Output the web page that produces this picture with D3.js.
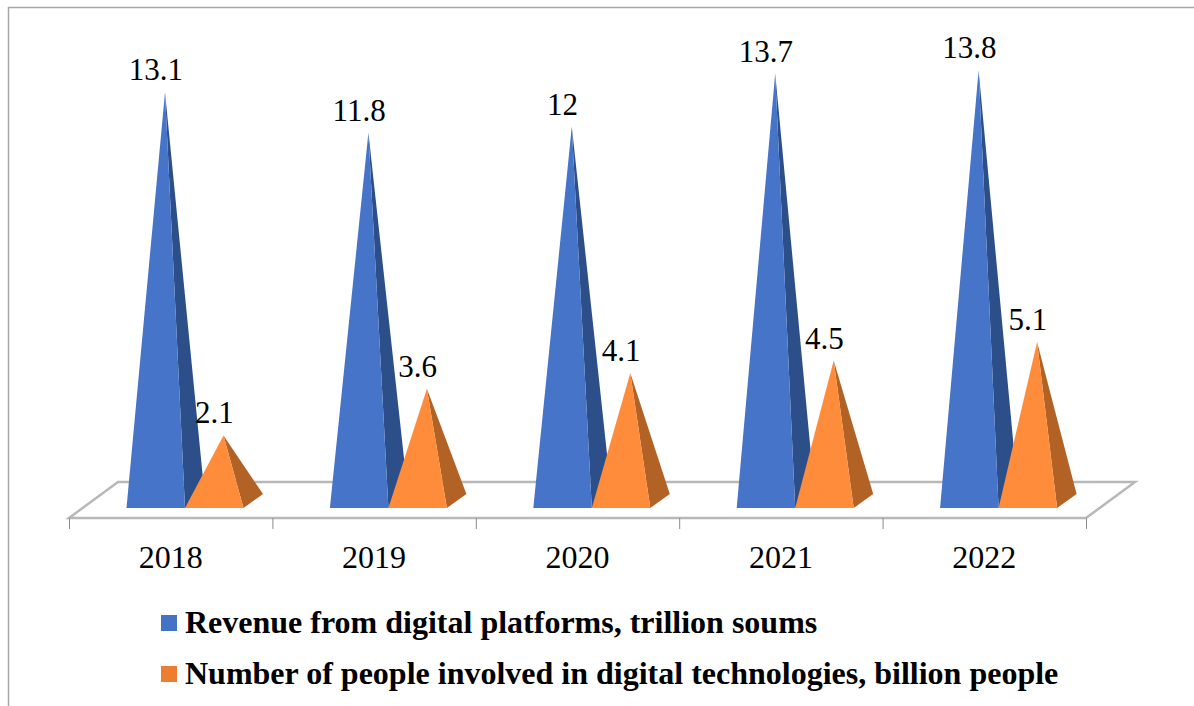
<!DOCTYPE html>
<html>
<head>
<meta charset="utf-8">
<script src="https://cdn.jsdelivr.net/npm/d3@7"></script>
<style>
  html, body { margin: 0; padding: 0; background: #fff; }
  svg { display: block; font-family: "Liberation Serif", serif; }
</style>
</head>
<body>
<svg id="chart" width="1194" height="706"></svg>
<script>
const years = ["2018", "2019", "2020", "2021", "2022"];
const seriesNames = [
  "Revenue from digital platforms, trillion soums",
  "Number of people involved in digital technologies, billion people"
];
const revenue = [13.1, 11.8, 12, 13.7, 13.8];
const people = [2.1, 3.6, 4.1, 4.5, 5.1];
const seriesValues = [revenue, people];
const frontColors = ["#4674c8", "#ff8c3a"];
const sideColors = ["#2c4f8a", "#b26224"];
const legendColors = ["#4472c4", "#ed7d31"];

const svg = d3.select("#chart");
const axisColor = "#b8b8b8";

// Floor plane and pyramid depth, in pixels of oblique projection
const floor = { left: 69, right: 1086, front: 518, back: 482, shift: 49 };
const depth = { dx: 19.5, dy: 14, apexShift: 9.25 };

const x = d3.scaleBand().domain(years).range([floor.left, floor.right]);
const inner = d3.scaleBand().domain(d3.range(seriesValues.length)).range([57.5, 174.5]);
const yBase = 501;
const y = d3.scaleLinear().domain([0, 14]).range([yBase, yBase - 14 * 31.2]);

// Outer frame, open on the right and at the bottom
svg.append("path")
  .attr("d", "M8.5,706V7.5H1194")
  .attr("fill", "none")
  .attr("stroke", "#a6a6a6")
  .attr("stroke-width", 1.5);

// Floor
svg.append("path")
  .attr("d", d3.line()([
    [floor.left, floor.front],
    [floor.left + floor.shift, floor.back],
    [floor.right + floor.shift, floor.back],
    [floor.right, floor.front]
  ]) + "Z")
  .attr("fill", "#fff")
  .attr("stroke", axisColor)
  .attr("stroke-width", 2.5);

// Category axis: ticks sit on the band edges, labels in the band centres
const axisTicks = [...years.map(d => x(d)), floor.right];
svg.append("g").selectAll("line").data(axisTicks).join("line")
  .attr("x1", d => d + 0.5).attr("x2", d => d + 0.5)
  .attr("y1", floor.front).attr("y2", floor.front + 11)
  .attr("stroke", "#8c8c8c").attr("stroke-width", 1);

svg.append("g").selectAll("text").data(years).join("text")
  .attr("x", d => x(d) + x.bandwidth() / 2)
  .attr("y", 568)
  .attr("text-anchor", "middle")
  .attr("font-size", 32)
  .attr("fill", "#000")
  .text(d => d);

// Pyramids, one group per year
years.forEach((year, i) => {
  seriesValues.forEach((values, s) => {
    const v = values[i];
    const x0 = x(year) + inner(s);
    const x1 = x0 + inner.bandwidth();
    const cx = (x0 + x1) / 2;
    const apex = [cx + depth.apexShift, y(v)];
    const frontY = yBase + 7;
    const g = svg.append("g");
    g.append("path")
      .attr("d", d3.line()([[x1, frontY], [x1 + depth.dx, frontY - depth.dy], apex]) + "Z")
      .attr("fill", sideColors[s]);
    g.append("path")
      .attr("d", d3.line()([[x0, frontY], [x1, frontY], apex]) + "Z")
      .attr("fill", frontColors[s]);
  });
});

// Value labels go above everything else
years.forEach((year, i) => {
  seriesValues.forEach((values, s) => {
    svg.append("text")
      .attr("x", x(year) + inner(s) + inner.bandwidth() / 2)
      .attr("y", y(values[i]) - 12)
      .attr("text-anchor", "middle")
      .attr("font-size", 31)
      .attr("fill", "#000")
      .text(values[i]);
  });
});

// Legend
const legendY = d3.scalePoint().domain(d3.range(seriesNames.length)).range([623, 674]);
seriesNames.forEach((name, s) => {
  svg.append("rect")
    .attr("x", 161).attr("y", legendY(s) - 8)
    .attr("width", 16).attr("height", 16)
    .attr("fill", legendColors[s]);
  svg.append("text")
    .attr("x", 185).attr("y", legendY(s) + 10)
    .attr("font-size", 32)
    .attr("font-weight", "bold")
    .attr("fill", "#000")
    .text(name);
});
</script>
</body>
</html>
